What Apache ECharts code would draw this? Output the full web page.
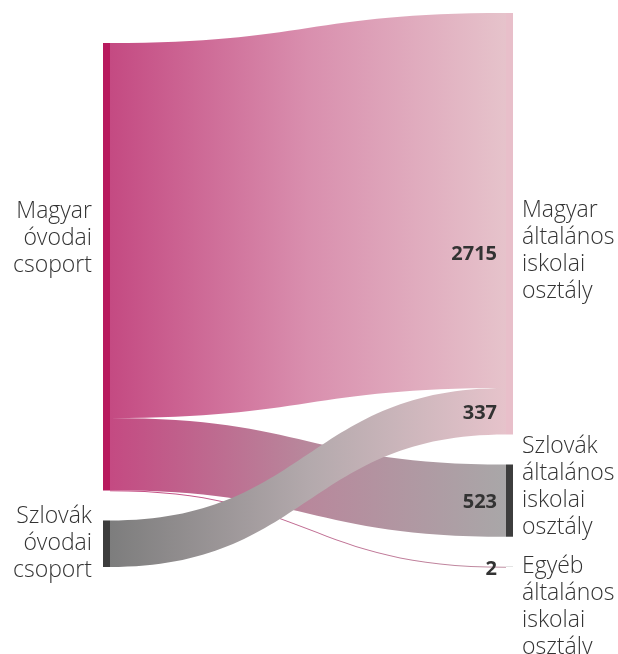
<!DOCTYPE html>
<html>
<head>
<meta charset="utf-8">
<script src="https://cdn.jsdelivr.net/npm/echarts@6/dist/echarts.min.js"></script>
<style>
  html, body { margin: 0; padding: 0; background: #fff; }
  #chart { width: 618px; height: 654px; }
</style>
</head>
<body>
<div id="chart"></div>
<script>
// csomópontok (bal: óvoda, jobb: iskola)
const nodeNames = [
  'Magyar\nóvodai\ncsoport',
  'Szlovák\nóvodai\ncsoport',
  'Magyar\náltalános\niskolai\nosztály',
  'Szlovák\náltalános\niskolai\nosztály',
  'Egyéb\náltalános\niskolai\nosztály'
];
const nodeColors = ['#b81a5e', '#3d3d3d', '#e8bfca', '#3d3d3d', '#9a9a9a'];
// kapcsolatok: forrás index, cél index, érték
const linkSource = [0, 0, 0, 1];
const linkTarget = [2, 3, 4, 2];
const linkValues = [2715, 523, 2, 337];
const linkColors = [
  ['#c44a82', '#d98fae', '#e6c3cb'],
  ['#c44a82', '#b8889c', '#a9a7a8'],
  ['#c44a82', '#c06c92', '#bf8fa2'],
  ['#7d7d7d', '#b3a9ac', '#e6c3cb']
];

const chart = echarts.init(document.getElementById('chart'));

const labelFont = {
  fontFamily: 'Open Sans',
  fontWeight: 300,
  fontSize: 23,
  lineHeight: 27,
  color: '#333'
};

// címke eltolások (csak stílus)
const labelOffsets = [[0, -28], [0, 0], [0, 27], [0, -14], [0, -14]];

const nodes = nodeNames.map((name, i) => {
  const right = i >= 2;
  return {
    name: name,
    itemStyle: { color: nodeColors[i] },
    label: Object.assign({}, labelFont, {
      position: right ? 'right' : 'left',
      align: right ? 'left' : 'right',
      verticalAlign: i === 4 ? 'top' : 'middle',
      distance: right ? 9 : 11,
      offset: labelOffsets[i]
    })
  };
});

const links = linkValues.map((v, i) => ({
  source: nodeNames[linkSource[i]],
  target: nodeNames[linkTarget[i]],
  value: v,
  lineStyle: {
    color: {
      type: 'linear', x: 0, y: 0, x2: 1, y2: 0,
      colorStops: [
        { offset: 0, color: linkColors[i][0] },
        { offset: 0.5, color: linkColors[i][1] },
        { offset: 1, color: linkColors[i][2] }
      ]
    },
    opacity: 1
  }
}));

chart.setOption({
  animation: false,
  series: [{
    type: 'sankey',
    left: 103,
    right: 105,
    top: 13,
    bottom: 87,
    nodeWidth: 7,
    nodeGap: 30,
    nodeAlign: 'justify',
    draggable: false,
    emphasis: { disabled: true },
    label: { show: true },
    lineStyle: { curveness: 0.5 },
    data: nodes,
    links: links
  }]
});

// értékcímkék a célcsomópont bal oldalán, a könyvtár elrendezéséből
try {
  const series = chart.getModel().getSeriesByIndex(0);
  const rect = series.layoutInfo;
  const graph = series.getGraph();
  const texts = [];
  graph.edges.forEach(edge => {
    const n2 = edge.node2.getLayout();
    const l = edge.getLayout();
    let y = rect.y + n2.y + l.ty + l.dy / 2;
    if (edge.getValue() === Math.max.apply(null, linkValues)) y += 52;
    texts.push({
      type: 'text',
      z: 100,
      x: rect.x + n2.x - 9,
      y: y + 2,
      style: {
        text: String(edge.getValue()),
        align: 'right',
        verticalAlign: 'middle',
        fontFamily: 'Open Sans',
        fontWeight: 'bold',
        fontSize: 20,
        fill: '#333'
      }
    });
  });
  chart.setOption({ graphic: texts });
} catch (e) {
  console.error(e);
}
</script>
</body>
</html>
